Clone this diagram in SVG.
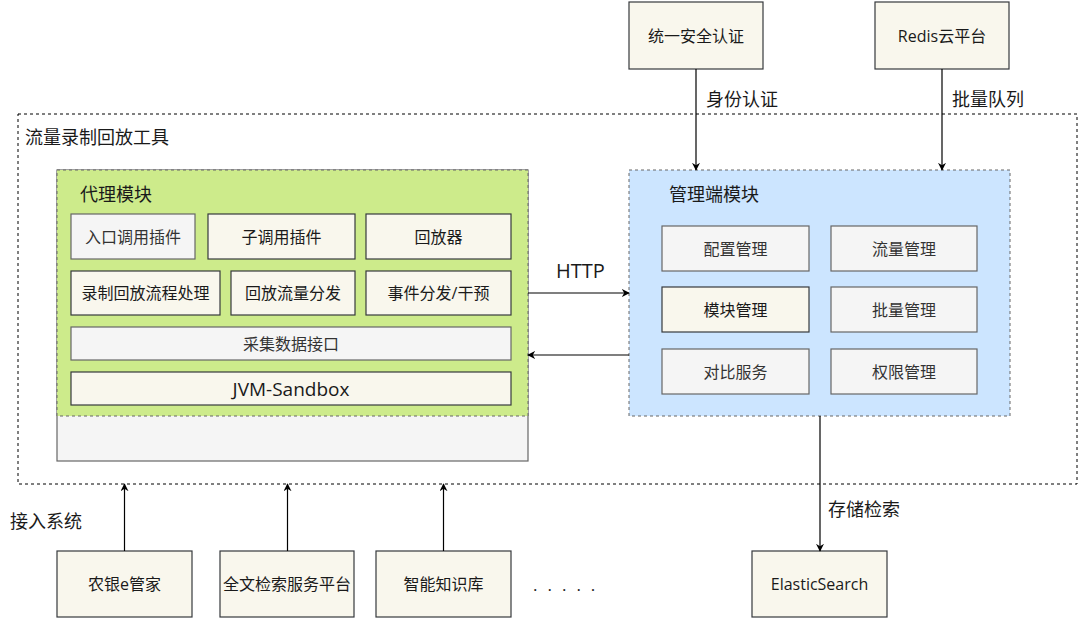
<svg xmlns="http://www.w3.org/2000/svg" width="1080" height="620" viewBox="0 0 1080 620">
<style>
text{font-family:"Open Sans","Noto Sans CJK SC",sans-serif;fill:#1a1a1a;}
.lbl{font-size:16px;text-anchor:middle;dominant-baseline:central;}
.gl{fill:#333333;}
.hd{font-size:18px;dominant-baseline:central;}
.box{fill:#f9f7ed;stroke:#36393d;stroke-width:1.2;}
.gbox{fill:#f5f5f5;stroke:#666666;stroke-width:1.2;}
.edge{stroke:#000;stroke-width:1.2;fill:none;}
</style>
<defs>
<marker id="arr" viewBox="0 0 10 10" refX="9" refY="5" markerWidth="8" markerHeight="8" orient="auto" markerUnits="userSpaceOnUse">
<path d="M0,0 L10,5 L0,10 L3,5 z" fill="#000"/>
</marker>
</defs>
<rect id="tool" x="18" y="114" width="1059" height="370" fill="none" stroke="#000" stroke-width="1" stroke-dasharray="3,3"/>
<text class="hd" x="25" y="137">流量录制回放工具</text>

<g id="agent">
<rect x="57" y="170" width="471" height="291" fill="#f5f5f5" stroke="#666666" stroke-width="1.2"/>
<rect x="57" y="170" width="471" height="246" fill="#cdeb8b" stroke="#666666" stroke-width="1" stroke-dasharray="3,3"/>
<text class="hd" x="80" y="194">代理模块</text>
</g>
<g id="entry"><rect class="gbox" x="71" y="214" width="124" height="45"/><text class="lbl gl" x="133" y="237">入口调用插件</text></g>
<g id="subcall"><rect class="box" x="208" y="214" width="147" height="45"/><text class="lbl" x="281.5" y="237">子调用插件</text></g>
<g id="replayer"><rect class="box" x="366" y="214" width="145" height="45"/><text class="lbl" x="438.5" y="237">回放器</text></g>
<g id="flow"><rect class="box" x="71" y="271" width="149" height="44"/><text class="lbl" x="145.5" y="293">录制回放流程处理</text></g>
<g id="dispatch"><rect class="box" x="231" y="271" width="124" height="44"/><text class="lbl" x="293" y="293">回放流量分发</text></g>
<g id="event"><rect class="box" x="366" y="271" width="145" height="44"/><text class="lbl" x="438.5" y="293">事件分发/干预</text></g>
<g id="collect"><rect class="gbox" x="71" y="327" width="440" height="33"/><text class="lbl gl" x="291" y="343.5">采集数据接口</text></g>
<g id="jvm"><rect class="box" x="71" y="372" width="440" height="33"/><text class="lbl" x="291" y="388.5" style="font-size:19px">JVM-Sandbox</text></g>

<g id="mgr">
<rect x="629" y="170" width="381" height="246" fill="#cce5ff" stroke="#666666" stroke-width="1" stroke-dasharray="3,3"/>
<text class="hd" x="669" y="194">管理端模块</text>
</g>
<g id="config"><rect class="gbox" x="662" y="226" width="147" height="45"/><text class="lbl gl" x="735.5" y="248.5">配置管理</text></g>
<g id="traffic"><rect class="gbox" x="831" y="226" width="146" height="45"/><text class="lbl gl" x="904" y="248.5">流量管理</text></g>
<g id="module"><rect class="box" x="662" y="287" width="147" height="45"/><text class="lbl" x="735.5" y="309.5">模块管理</text></g>
<g id="batch"><rect class="gbox" x="831" y="287" width="146" height="45"/><text class="lbl gl" x="904" y="309.5">批量管理</text></g>
<g id="compare"><rect class="gbox" x="662" y="349" width="147" height="45"/><text class="lbl gl" x="735.5" y="371.5">对比服务</text></g>
<g id="perm"><rect class="gbox" x="831" y="349" width="146" height="45"/><text class="lbl gl" x="904" y="371.5">权限管理</text></g>

<g id="auth"><rect class="box" x="629" y="2" width="134" height="67"/><text class="lbl" x="696" y="35.5">统一安全认证</text></g>
<g id="redis"><rect class="box" x="875" y="2" width="134" height="67"/><text class="lbl" x="942" y="35.5">Redis云平台</text></g>
<g id="es"><rect class="box" x="752" y="551" width="135" height="66"/><text class="lbl" x="819.5" y="584">ElasticSearch</text></g>
<g id="abc"><rect class="box" x="57" y="551" width="135" height="66"/><text class="lbl" x="124.5" y="584">农银e管家</text></g>
<g id="search"><rect class="box" x="220" y="551" width="134" height="66"/><text class="lbl" x="287" y="584">全文检索服务平台</text></g>
<g id="kb"><rect class="box" x="376" y="551" width="135" height="66"/><text class="lbl" x="443.5" y="584">智能知识库</text></g>

<g id="connectors">
<line class="edge" x1="696" y1="69" x2="696" y2="170" marker-end="url(#arr)"/>
<line class="edge" x1="942" y1="69" x2="942" y2="170" marker-end="url(#arr)"/>
<line class="edge" x1="528" y1="293" x2="629" y2="293" marker-end="url(#arr)"/>
<line class="edge" x1="629" y1="355" x2="528" y2="355" marker-end="url(#arr)"/>
<line class="edge" x1="820" y1="416" x2="820" y2="551" marker-end="url(#arr)"/>
<line class="edge" x1="124.5" y1="551" x2="124.5" y2="484" marker-end="url(#arr)"/>
<line class="edge" x1="287.5" y1="551" x2="287.5" y2="484" marker-end="url(#arr)"/>
<line class="edge" x1="443.5" y1="551" x2="443.5" y2="484" marker-end="url(#arr)"/>
<text class="hd" x="706" y="99">身份认证</text>
<text class="hd" x="952" y="99">批量队列</text>
<text class="hd" x="556" y="270" style="font-size:20px">HTTP</text>
<text class="hd" x="828" y="509">存储检索</text>
</g>
<text class="hd" x="10" y="521">接入系统</text>
<text x="533" y="591" style="font-size:17px;letter-spacing:10px">.....</text>
</svg>
